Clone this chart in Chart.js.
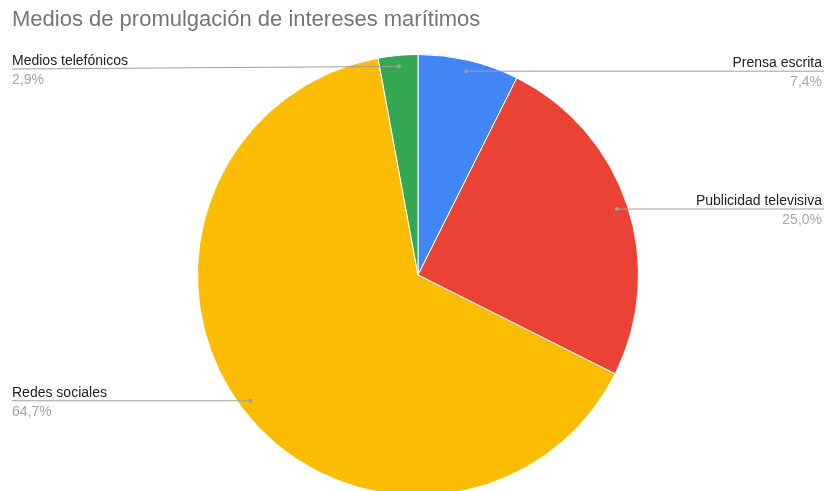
<!DOCTYPE html>
<html>
<head>
<meta charset="utf-8">
<script src="https://cdn.jsdelivr.net/npm/chart.js@4"></script>
<style>
  html, body { margin: 0; padding: 0; background: #fff; overflow: hidden; }
  #wrap { width: 826px; height: 520px; }
</style>
</head>
<body>
<div id="wrap"><canvas id="chart-canvas" width="826" height="520"></canvas></div>
<script>
const categories = ['Prensa escrita', 'Publicidad televisiva', 'Redes sociales', 'Medios telefónicos'];
const values = [7.4, 25.0, 64.7, 2.9];
const percentLabels = ['7,4%', '25,0%', '64,7%', '2,9%'];
const colors = ['#4285f4', '#ea4335', '#fbbc04', '#34a853'];

// leader lines + labels, like google sheets
const calloutPlugin = {
  id: 'callouts',
  afterDatasetsDraw(chart) {
    const ctx = chart.ctx;
    const meta = chart.getDatasetMeta(0);
    const area = chart.chartArea;
    meta.data.forEach((arc, i) => {
      const mid = (arc.startAngle + arc.endAngle) / 2;
      const r = arc.outerRadius * 0.95;
      const dx = arc.x + Math.cos(mid) * r;
      const dy = arc.y + Math.sin(mid) * r;
      const right = Math.cos(mid) >= 0;
      const ly = Math.max(dy, area.top + 15);
      const endX = right ? chart.width - 2 : 12;
      const textX = right ? chart.width - 4 : 12;

      ctx.save();
      ctx.strokeStyle = '#9e9e9e';
      ctx.lineWidth = 1;
      ctx.beginPath();
      ctx.moveTo(dx, dy);
      ctx.lineTo(endX, ly);
      ctx.stroke();
      ctx.fillStyle = '#9e9e9e';
      ctx.beginPath();
      ctx.arc(dx, dy, 2, 0, Math.PI * 2);
      ctx.fill();

      ctx.font = '14px "Liberation Sans", Arial';
      ctx.textAlign = right ? 'right' : 'left';
      ctx.textBaseline = 'alphabetic';
      ctx.fillStyle = '#222222';
      ctx.fillText(categories[i], textX, ly - 4);
      ctx.fillStyle = '#a6a6a6';
      ctx.fillText(percentLabels[i], textX, ly + 15);
      ctx.restore();
    });
  }
};

const ctx = document.getElementById('chart-canvas');

let myChart = new Chart(ctx, {
  type: 'pie',
  data: {
    labels: categories,
    datasets: [
      {
        data: values,
        backgroundColor: colors,
        borderColor: '#ffffff',
        borderWidth: 1
      }
    ]
  },
  options: {
    responsive: false,
    animation: false,
    layout: {
      padding: { left: 12, right: 2, top: 0, bottom: 24 }
    },
    plugins: {
      legend: { display: false },
      tooltip: { enabled: false },
      title: {
        display: true,
        text: 'Medios de promulgación de intereses marítimos',
        align: 'start',
        color: '#757575',
        font: { family: '"Liberation Sans", Arial', size: 22, weight: 'normal' },
        padding: { top: 7, bottom: 20.6 }
      }
    }
  },
  plugins: [calloutPlugin]
});
</script>
</body>
</html>
